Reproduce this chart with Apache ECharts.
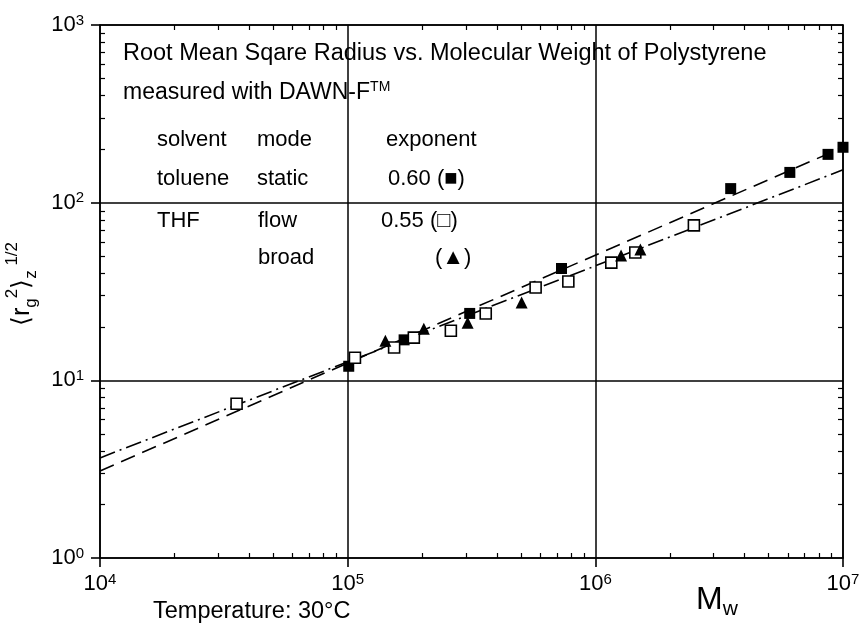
<!DOCTYPE html>
<html>
<head>
<meta charset="utf-8">
<script src="https://cdn.jsdelivr.net/npm/echarts@6/dist/echarts.min.js"></script>
<style>
  html, body { margin: 0; padding: 0; background: #fff; }
  #chart { width: 862px; height: 627px; }
</style>
</head>
<body>
<div id="chart"></div>
<script>
  // values: M_w and <rg^2>_z^1/2
  const tolueneMw = [1.01e5, 1.69e5, 3.11e5, 7.3e5, 3.52e6, 6.1e6, 8.7e6, 1.0e7];
  const tolueneRg = [12.0, 16.9, 23.8, 42.6, 120, 148, 187, 205];
  const flowMw = [3.56e4, 1.07e5, 1.54e5, 1.85e5, 2.61e5, 3.61e5, 5.74e5, 7.78e5, 1.16e6, 1.45e6, 2.5e6];
  const flowRg = [7.38, 13.4, 15.3, 17.4, 19.0, 23.8, 33.3, 36.0, 46.0, 52.4, 74.5];
  const broadMw = [1.42e5, 2.03e5, 3.05e5, 5.04e5, 1.27e6, 1.52e6];
  const broadRg = [16.7, 19.5, 21.1, 27.4, 50.4, 54.5];
  // fitted power laws (exponent 0.60 / 0.55), ends at the axis limits
  const fitMw = [1e4, 1e7];
  const tolueneFit = [3.09, 205];
  const thfFit = [3.66, 153];
  // minor ticks 2..9 inside every decade
  const minorX = [2e4, 3e4, 4e4, 5e4, 6e4, 7e4, 8e4, 9e4,
                  2e5, 3e5, 4e5, 5e5, 6e5, 7e5, 8e5, 9e5,
                  2e6, 3e6, 4e6, 5e6, 6e6, 7e6, 8e6, 9e6];
  const minorY = [2, 3, 4, 5, 6, 7, 8, 9,
                  20, 30, 40, 50, 60, 70, 80, 90,
                  200, 300, 400, 500, 600, 700, 800, 900];

  const FONT = '"Liberation Sans", Arial, sans-serif';
  const black = '#000';

  const pairs = (xs, ys) => xs.map((x, i) => [x, ys[i]]);
  const powLabel = v => '{b|10}{s|' + Math.round(Math.log10(v)) + '}';
  const powRich = {
    b: { fontSize: 22, lineHeight: 24, fontFamily: FONT, color: black },
    s: { fontSize: 15, lineHeight: 15, fontFamily: FONT, color: black, verticalAlign: 'top' }
  };

  function mainAxis(pos, min, max) {
    return {
      type: 'log', logBase: 10, min: min, max: max, position: pos,
      axisLine: { show: true, lineStyle: { color: black, width: 1.6 } },
      axisTick: { show: true, inside: false, length: 9, lineStyle: { color: black, width: 1.6 } },
      axisLabel: { formatter: powLabel, rich: powRich, margin: pos === 'left' ? 16 : 14 },
      splitLine: { show: true, lineStyle: { color: black, width: 1.5 } },
      minorTick: { show: false }
    };
  }
  function minorAxis(pos, min, max, vals, showLine) {
    return {
      type: 'log', logBase: 10, min: min, max: max, position: pos,
      axisLine: { show: showLine, lineStyle: { color: black, width: 1.6 } },
      axisTick: { show: true, inside: true, length: 5, customValues: vals, lineStyle: { color: black, width: 1.2 } },
      axisLabel: { show: false },
      splitLine: { show: false }
    };
  }
  const txt = (x, y, s, size) => ({
    type: 'text', x: x, y: y,
    style: { text: s, font: (size || 22) + 'px ' + FONT, fill: black, verticalAlign: 'middle' }
  });

  const chart = echarts.init(document.getElementById('chart'));
  chart.setOption({
    animation: false,
    backgroundColor: '#fff',
    grid: { left: 100, right: 19, top: 25, bottom: 69, containLabel: false, outerBoundsMode: 'none' },
    xAxis: [
      mainAxis('bottom', 1e4, 1e7),
      minorAxis('bottom', 1e4, 1e7, minorX, false),
      minorAxis('top', 1e4, 1e7, minorX, true)
    ],
    yAxis: [
      mainAxis('left', 1, 1000),
      minorAxis('left', 1, 1000, minorY, false),
      minorAxis('right', 1, 1000, minorY, true)
    ],
    series: [
      {
        name: 'toluene fit', type: 'line', data: pairs(fitMw, tolueneFit),
        symbol: 'none', z: 2,
        lineStyle: { color: black, width: 1.6, type: [15, 8] }
      },
      {
        name: 'THF fit', type: 'line', data: pairs(fitMw, thfFit),
        symbol: 'none', z: 2,
        lineStyle: { color: black, width: 1.6, type: [16, 5, 2, 5] }
      },
      {
        name: 'toluene static', type: 'scatter', data: pairs(tolueneMw, tolueneRg),
        symbol: 'rect', symbolSize: 11, z: 3,
        itemStyle: { color: black, opacity: 1 }
      },
      {
        name: 'THF flow', type: 'scatter', data: pairs(flowMw, flowRg),
        symbol: 'rect', symbolSize: 11, z: 3,
        itemStyle: { color: '#fff', borderColor: black, borderWidth: 1.6, opacity: 1 }
      },
      {
        name: 'THF broad', type: 'scatter', data: pairs(broadMw, broadRg),
        symbol: 'triangle', symbolSize: 12, z: 4,
        itemStyle: { color: black, opacity: 1 }
      }
    ],
    graphic: [
      txt(123, 54, 'Root Mean Sqare Radius vs. Molecular Weight of Polystyrene', 23.5),
      { type: 'text', x: 123, y: 93, style: {
          text: '{n|measured with DAWN-F}{s|TM}', verticalAlign: 'middle',
          rich: {
            n: { fontSize: 23, lineHeight: 25, fontFamily: FONT, fill: black },
            s: { fontSize: 14, lineHeight: 14, fontFamily: FONT, fill: black, verticalAlign: 'top' }
          } } },
      txt(157, 140, 'solvent'), txt(257, 140, 'mode'), txt(386, 140, 'exponent'),
      txt(157, 179, 'toluene'), txt(257, 179, 'static'), txt(388, 179, '0.60 (■)'),
      txt(157, 221, 'THF'), txt(258, 221, 'flow'), txt(381, 221, '0.55 (□)'),
      txt(258, 258, 'broad'), txt(435, 258, '(▲)'),
      // axis names
      txt(153, 612, 'Temperature: 30°C', 23.5),
      { type: 'text', x: 696, y: 600, style: {
          text: '{m|M}{w|w}', verticalAlign: 'middle',
          rich: {
            m: { fontSize: 32, lineHeight: 40, fontFamily: FONT, fill: black },
            w: { fontSize: 21, lineHeight: 21, fontFamily: FONT, fill: black, verticalAlign: 'bottom' }
          } } },
      { type: 'text', x: 22, y: 284, rotation: Math.PI / 2, style: {
          text: '{a|⟨r}{b|g}{c|2}{a|⟩}{b|z}{c| 1/2}', align: 'center', verticalAlign: 'middle',
          rich: {
            a: { fontSize: 25, lineHeight: 36, fontFamily: FONT, fill: black },
            b: { fontSize: 17, lineHeight: 17, fontFamily: FONT, fill: black, verticalAlign: 'bottom' },
            c: { fontSize: 17, lineHeight: 17, fontFamily: FONT, fill: black, verticalAlign: 'top' }
          } } }
    ]
  });
</script>
</body>
</html>
